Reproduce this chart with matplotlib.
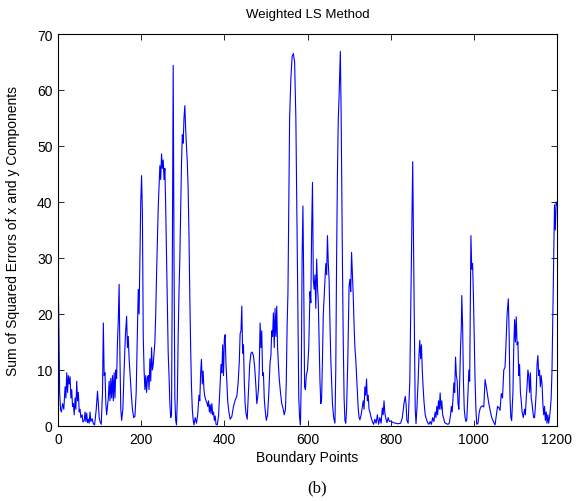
import matplotlib
matplotlib.use("Agg")
import matplotlib.pyplot as plt

title = "Weighted LS Method"
xlabel = "Boundary Points"
ylabel = "Sum of Squared Errors of x and y Components"
caption = "(b)"
xticks = [0, 200, 400, 600, 800, 1000, 1200]
yticks = [0, 10, 20, 30, 40, 50, 60, 70]

pts = [
(0,30),(2,18),(4,6),(6,3),(8,2.5),(11,4),(14,3),(17,7),(19,5),(21,9.5),(23,6),(25,9),(27,7.5),(29,8.8),
(31,5),(33,6.5),(35,3.5),(37,4),(39,2),(41,5),(43,3),(45,8),(47,4.5),(49,6),(51,2.5),(53,3),(55,1.5),
(58,2),(60,0.7),(63,1),(65,2.5),(67,0.8),(69,2.3),(71,0.6),(73,1.2),(75,0.5),(77,2.5),(79,0.8),(82,1.3),
(85,0.4),(88,0.2),(92,3),(95,6.2),(97,4),(99,1.5),(101,0.8),(104,0.3),(107,6),(109,18.4),(111,9),(113,9.5),
(115,4),(117,2),(119,3.5),(121,5),(123,8),(125,4.5),(127,8.5),(129,5),(131,9),(133,4.5),(135,9.5),(137,5),
(139,10),(141,8.5),(143,15),(145,19),(147,25.3),(149,12),(151,3),(153,1),(156,3),(159,10),(162,16),(165,19.6),
(167,14),(169,16),(171,12),(173,9.5),(176,6),(179,3),(182,1.5),(185,1.7),(188,6),(191,17),(193,24.4),(195,20),
(197,30),(199,40),(201,44.7),(203,38),(205,16),(207,10),(209,6.5),(211,9),(213,6),(215,8.5),(217,9),(219,6.5),
(221,12),(223,8),(225,14),(227,10),(229,11),(231,13),(233,15),(235,20),(237,27),(239,33),(241,39),(243,43),
(245,46.5),(247,44),(249,48.6),(251,46),(253,47.5),(255,44),(257,46),(259,39),(261,30),(263,22),(265,13),
(267,9),(269,4),(271,1.5),(273,2),(275,30),(277,64.4),(279,30),(281,5),(283,1),(285,0.2),(287,5),(289,16),
(291,24),(293,30),(295,38),(297,47),(299,52),(301,50.5),(303,55),(305,57.2),(307,53),(309,50),(311,47),
(313,42.3),(315,34),(317,23),(319,14),(321,7),(323,3),(325,1.1),(327,0.2),(330,1.5),(333,0.5),(336,2),
(339,5.5),(341,4.5),(343,9.5),(345,11.9),(347,7.5),(349,9.8),(351,6.5),(353,5.3),(356,4.5),(358,4.2),
(360,3.5),(362,4.5),(364,2.5),(366,3.8),(368,2.2),(370,4),(372,2),(374,2.5),(376,1),(378,1.8),(380,0.3),
(383,0.2),(386,1.7),(389,6),(392,11),(394,9.5),(396,14.5),(398,9),(400,15.5),(402,16.3),(404,11),(406,8),
(408,4.5),(411,2.5),(414,1.2),(418,1.7),(422,3.5),(426,4.6),(430,5.3),(433,7.5),(436,11.5),(438,16.5),
(440,17),(442,21.4),(444,13),(446,14.5),(448,8),(450,4),(452,2.3),(455,1.2),(458,6),(461,11),(464,13),
(467,13.2),(470,12.5),(473,10.5),(476,7),(478,4),(480,5),(482,6.5),(484,10.5),(486,18.4),(488,14),(490,17),
(492,9),(494,9.5),(496,5),(498,3),(501,1),(504,2),(507,6),(510,11.4),(512,12.5),(514,17),(516,16),(518,20.2),
(520,14),(522,21),(524,16),(526,21.4),(528,14),(530,11),(532,8.5),(535,6),(538,4),(541,3.2),(544,2),(547,3),
(549,8),(551,18),(553,23.8),(555,40),(557,55),(560,62),(563,66),(566,66.5),(569,65),(572,55),(575,35),
(577,20),(579,5),(581,1.5),(583,0.2),(585,8),(587,30),(589,39.3),(591,25),(593,7),(595,6.5),(597,9),
(600,10),(603,14),(606,24),(608,22),(610,35),(612,43.5),(614,26),(616,24.4),(618,27),(620,21),(622,29.8),
(624,25),(626,22),(628,15),(630,8),(632,4),(634,5),(636,12),(638,20),(640,23),(642,26.2),(644,29),(646,27),
(648,34),(650,29),(652,26),(654,18.4),(656,12),(658,8),(660,4),(663,1.5),(666,0.5),(668,10),(670,30),
(672,45),(674,54.8),(676,59),(678,64),(679,66.9),(681,55),(684,29.3),(686,15),(688,5),(690,1),(692,0.5),
(694,3),(697,12),(700,25),(702,26.2),(704,24),(706,31),(708,27),(710,23.3),(712,18),(714,14),(716,12),
(718,8.9),(720,6),(722,3),(724,1.5),(726,1.1),(729,2),(732,3.5),(734,4.5),(736,3),(738,7),(740,5.5),
(742,8.4),(744,4.5),(746,5.5),(748,3),(750,2.5),(753,1.5),(756,0.8),(759,0.3),(762,1.2),(765,0.5),(768,2),
(771,0.3),(774,1.5),(777,0.5),(780,3.2),(782,2),(784,4.5),(786,2.3),(788,1.5),(791,0.6),(794,1.5),(797,0.8),
(800,0.9),(806,0.6),(812,0.5),(818,0.4),(824,0.5),(828,1.5),(832,4),(835,5.3),(837,4),(839,1),(842,0.5),
(846,8),(850,30),(853,47.2),(856,25),(859,3),(861,0.4),(863,3),(866,8),(868,12.5),(870,15.3),(872,12),
(874,14.5),(876,10),(878,7),(880,4.5),(883,2),(886,1.2),(889,0.6),(892,0.3),(895,0.8),(898,0.3),(901,1.5),
(904,0.8),(907,2.5),(909,1.5),(911,3.5),(913,2),(915,4.5),(917,3),(919,5.9),(921,3),(923,4.5),(925,2),
(927,1.5),(930,0.6),(934,0.4),(938,0.3),(941,0.5),(944,2),(946,3.5),(948,2.5),(950,5),(952,7.7),(954,6),
(956,12.3),(958,9),(960,8),(962,4),(964,3),(966,8),(968,14),(970,18),(971,23.3),(973,18),(975,8),(977,3),
(979,1.5),(981,0.8),(983,1.1),(986,6),(988,10),(990,8),(992,27),(993,34),(995,28),(997,29),(999,23.3),
(1001,16),(1003,8),(1005,3),(1007,0.3),(1010,0.5),(1013,2.5),(1016,3.3),(1020,3.6),(1024,3.4),(1027,8.3),
(1030,7),(1033,5.5),(1036,4),(1040,2.5),(1043,1.5),(1047,0.8),(1051,0.2),(1054,1.8),(1057,3.5),(1060,3.3),
(1063,2.8),(1066,5.8),(1069,5),(1072,10),(1075,10.5),(1077,14),(1080,20),(1083,22.7),(1085,16),(1087,5),
(1089,1.5),(1091,1),(1094,6),(1096,14),(1098,19),(1100,15),(1102,19.5),(1104,14.5),(1106,15),(1108,9),
(1110,11),(1112,6),(1114,4.5),(1116,2.5),(1119,1.5),(1122,3),(1124,2),(1126,5),(1128,7),(1130,10),(1132,9),
(1134,6),(1136,9.5),(1138,5),(1140,4),(1142,2.5),(1144,1.5),(1146,1.5),(1148,3.5),(1150,6),(1152,11),
(1154,12.6),(1156,9),(1158,10),(1160,7),(1162,9),(1164,7.5),(1166,4),(1168,2),(1170,3.5),(1172,1),(1174,2.5),
(1176,0.5),(1178,2),(1180,0.5),(1182,1.5),(1184,3),(1186,5),(1188,10),(1190,20),(1192,30),(1194,39.5),
(1196,35),(1198,40),(1199,39.5),
]
xs = [p[0] for p in pts]
ys = [p[1] for p in pts]

plt.rcParams['font.family'] = ['Liberation Sans', 'DejaVu Sans']
fig = plt.figure(figsize=(5.83, 5.02), dpi=100)
ax = fig.add_axes([58/583, 75/502, 499/583, 392/502])
ax.plot(xs, ys, color=(0, 0, 1), linewidth=0.8)
ax.set_xlim(0, 1200)
ax.set_ylim(0, 70)
ax.set_xticks(xticks)
ax.set_yticks(yticks)
ax.tick_params(direction='in', top=True, right=True, labelsize=10, length=4, width=0.6, pad=4)
for s in ax.spines.values():
    s.set_linewidth(0.8)
ax.set_title(title, fontsize=9.5, pad=12)
ax.set_xlabel(xlabel, fontsize=10, labelpad=3)
ax.set_ylabel(ylabel, fontsize=10, labelpad=12)
fig.text(317/583, 1 - 488/502, caption, ha='center', va='center', fontsize=12,
         family='Liberation Serif')
fig.savefig("out.png", dpi=100)
